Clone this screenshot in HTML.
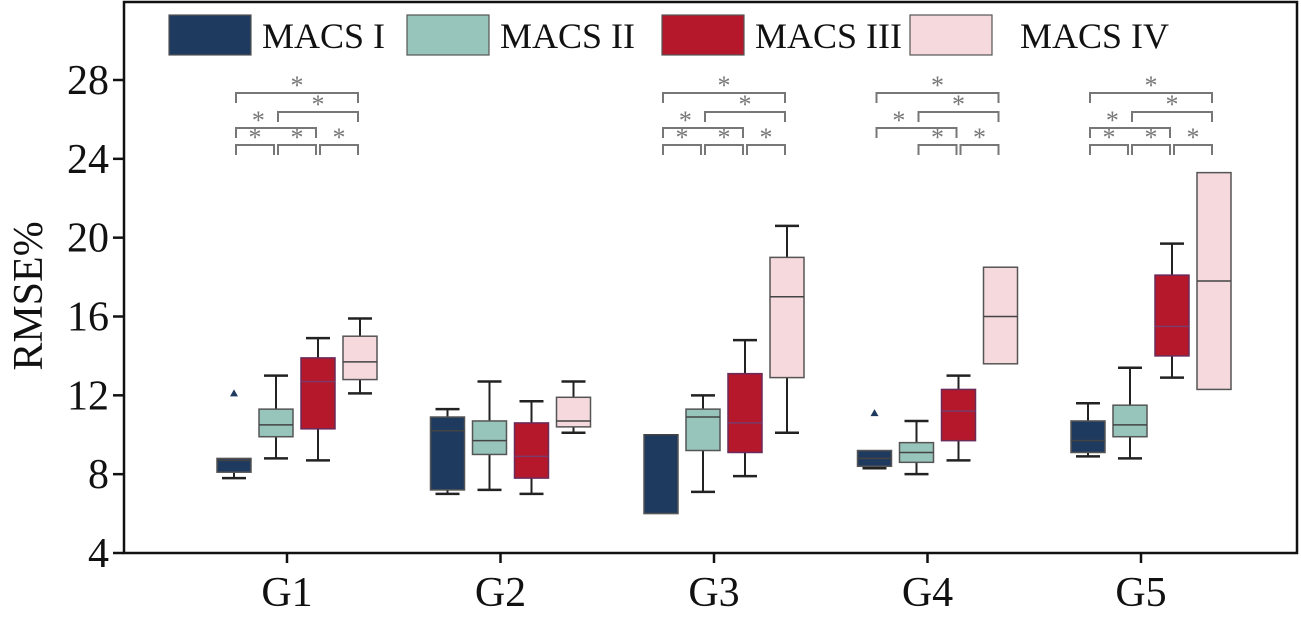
<!DOCTYPE html>
<html><head><meta charset="utf-8"><style>
html,body{margin:0;padding:0;background:#fff;}
svg{display:block;font-family:"Liberation Serif",serif;}
</style></head><body>
<svg id="chart" width="1301" height="618" viewBox="0 0 1301 618"></svg>
<script>
const groups=["G1","G2","G3","G4","G5"];
const seriesNames=["MACS I","MACS II","MACS III","MACS IV"];
const colors=["#1f3a5f","#97c4bb","#b5182a","#f5d9dc"];
const yTicks=[4,8,12,16,20,24,28];
// per series: [group] -> [whiskerLow, q1, median, q3, whiskerHigh]
const macs1=[[7.8,8.1,8.7,8.8,8.8],[7.0,7.2,10.2,10.9,11.3],[6.0,6.0,10.0,10.0,10.0],[8.3,8.4,8.8,9.2,9.2],[8.9,9.1,9.7,10.7,11.6]];
const macs2=[[8.8,9.9,10.5,11.3,13.0],[7.2,9.0,9.7,10.7,12.7],[7.1,9.2,10.9,11.3,12.0],[8.0,8.6,9.1,9.6,10.7],[8.8,9.9,10.5,11.5,13.4]];
const macs3=[[8.7,10.3,12.7,13.9,14.9],[7.0,7.8,8.9,10.6,11.7],[7.9,9.1,10.6,13.1,14.8],[8.7,9.7,11.2,12.3,13.0],[12.9,14.0,15.5,18.1,19.7]];
const macs4=[[12.1,12.8,13.7,15.0,15.9],[10.1,10.4,10.7,11.9,12.7],[10.1,12.9,17.0,19.0,20.6],[13.6,13.6,16.0,18.5,18.5],[12.3,12.3,17.8,23.3,23.3]];
const outliers=[[0,0,12.1],[0,3,11.1]]; // [series, group, value]
// significance brackets per group: [seriesA, seriesB, level]
const sigG1=[[0,3,3],[1,3,2],[0,2,1],[0,1,0],[1,2,0],[2,3,0]];
const sigG2=[];
const sigG3=[[0,3,3],[1,3,2],[0,2,1],[0,1,0],[1,2,0],[2,3,0]];
const sigG4=[[0,3,3],[1,3,2],[0,2,1],[1,2,0],[2,3,0]];
const sigG5=[[0,3,3],[1,3,2],[0,2,1],[0,1,0],[1,2,0],[2,3,0]];

const allSeries=[macs1,macs2,macs3,macs4];
const allSig=[sigG1,sigG2,sigG3,sigG4,sigG5];
const svg=document.getElementById('chart');
const NS="http://www.w3.org/2000/svg";
const L=124,R=1297,T=2,B=553;
function y(v){return B-(v-4)*(B-80)/(28-4);}
const g0=287,gStep=213.5;
const offs=[-53,-11,31,73];
function gx(g){return g0+g*gStep;}
function sx(g,s){return gx(g)+offs[s];}
function mk(tag,attrs,parent){const e=document.createElementNS(NS,tag);for(const k in attrs)e.setAttribute(k,attrs[k]);(parent||svg).appendChild(e);return e;}

const frame=mk('rect',{x:L,y:T,width:R-L,height:B-T,fill:'none',stroke:'#111','stroke-width':2.5});



yTicks.forEach(v=>{
  const t=mk('line',{x1:L-11,x2:L,y1:y(v),y2:y(v),stroke:'#111','stroke-width':2.5});
  
  
  const tx=mk('text',{x:L-15,y:y(v)+14,'text-anchor':'end','font-size':42,fill:'#111'});
  tx.textContent=v;
  
  
});
const yt=mk('text',{x:0,y:0,transform:'translate(42,296) rotate(-90)','text-anchor':'middle','font-size':42,fill:'#111'});
yt.textContent='RMSE%';



groups.forEach((gn,g)=>{
  const t=mk('line',{x1:gx(g),x2:gx(g),y1:B,y2:B+10,stroke:'#111','stroke-width':2.5});
  
  
  const tx=mk('text',{x:gx(g),y:606,'text-anchor':'middle','font-size':42,fill:'#111'});
  tx.textContent=gn;
  
  
});

const bw=34;
allSeries.forEach((ser,s)=>{
  ser.forEach((d,g)=>{
    const cx=sx(g,s);
    const grp=mk('g',{});
    
    
    const [lo,q1,md,q3,hi]=d;
    if(hi>q3){mk('line',{x1:cx,x2:cx,y1:y(hi),y2:y(q3),stroke:'#222','stroke-width':2},grp);
      mk('line',{x1:cx-12,x2:cx+12,y1:y(hi),y2:y(hi),stroke:'#222','stroke-width':2.5},grp);}
    if(lo<q1){mk('line',{x1:cx,x2:cx,y1:y(q1),y2:y(lo),stroke:'#222','stroke-width':2},grp);
      mk('line',{x1:cx-12,x2:cx+12,y1:y(lo),y2:y(lo),stroke:'#222','stroke-width':2.5},grp);}
    mk('rect',{x:cx-bw/2,y:y(q3),width:bw,height:Math.max(1,y(q1)-y(q3)),fill:colors[s],stroke:s==2?'#6a2a5a':'#555','stroke-width':1.5},grp);
    mk('line',{x1:cx-bw/2,x2:cx+bw/2,y1:y(md),y2:y(md),stroke:s==2?'#7a3a6a':'#444','stroke-width':1.5},grp);
  });
});
outliers.forEach(o=>{
  const cx=sx(o[1],o[0]),cy=y(o[2]);
  const p=mk('polygon',{points:`${cx-4},${cy+3} ${cx+4},${cy+3} ${cx},${cy-4}`,fill:colors[o[0]]});
  
  
});

const levelY=[145,128,112,93];
allSig.forEach((list,g)=>{
  list.forEach(b=>{
    const [a,c,lv]=b;
    const x1=sx(g,a)+2,x2=sx(g,c)-2;
    const ly=levelY[lv];
    const br=mk('path',{d:`M${x1},${ly+10}V${ly}H${x2}V${ly+10}`,fill:'none',stroke:'#777','stroke-width':2});
    
    
    const sxm=lv==1?x1+(x2-x1)*0.28:(x1+x2)/2;
    const st=mk('text',{x:sxm,y:ly+1,'text-anchor':'middle','font-size':26,fill:'#777'});
    st.textContent='*';
    
    
  });
});

const legBox=[169,407,662,910],legText=[262,500,755,1020];
seriesNames.forEach((n,s)=>{
  const lg=mk('g',{});
  
  
  mk('rect',{x:legBox[s],y:15,width:82,height:40,fill:colors[s],stroke:'#555','stroke-width':1.2},lg);
  const t=mk('text',{x:legText[s],y:48,'font-size':36,fill:'#111'},lg);
  t.textContent=n;
});
</script>
</body></html>
